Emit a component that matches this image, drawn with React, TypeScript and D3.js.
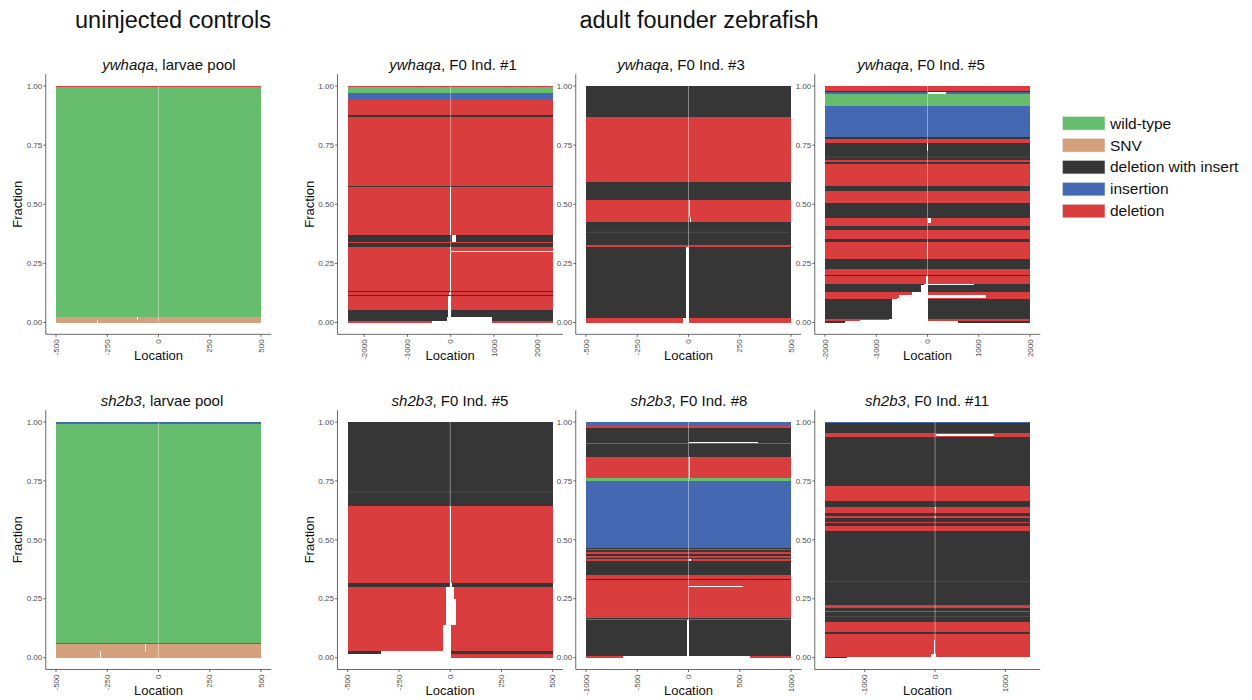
import React from "react";
import * as d3 from "d3";

// allele categories (legend order) and colours
const alleleKeys = ["wt", "snv", "di", "ins", "del"];
const alleleLabels = ["wild-type", "SNV", "deletion with insert", "insertion", "deletion"];
const alleleColors = ["#66BD6E", "#D4A17C", "#363636", "#4468B2", "#D93D3E"];

// each band: [allele, fraction, deletion start, deletion end] from bottom (0) to top (1)
type Band = [string, number, number, number];

const ywhaqaPool: Band[] = [
  ["snv", 0.012, -300, -296],
  ["snv", 0.010, -104, -100],
  ["wt", 0.972, 0, 0],
  ["del", 0.006, 0, 0],
];

const ywhaqaF01: Band[] = [
  ["del", 0.006, -440, 950],
  ["di", 0.019, -80, 950],
  ["di", 0.029, -60, 20],
  ["del", 0.060, -50, 10],
  ["di", 0.004, 0, 0],
  ["del", 0.011, -30, 5],
  ["di", 0.006, 0, 0],
  ["del", 0.165, -15, 5],
  ["del", 0.003, 0, 2400],
  ["del", 0.017, -10, 15],
  ["di", 0.015, 0, 0],
  ["del", 0.005, 0, 0],
  ["di", 0.032, 30, 120],
  ["del", 0.202, -5, 5],
  ["di", 0.004, 0, 0],
  ["del", 0.292, 0, 0],
  ["di", 0.006, 0, 0],
  ["del", 0.069, 0, 0],
  ["ins", 0.027, 0, 0],
  ["wt", 0.023, 0, 0],
  ["del", 0.005, 0, 0],
];

const ywhaqaF03: Band[] = [
  ["del", 0.018, -25, 0],
  ["di", 0.301, -10, 0],
  ["del", 0.009, 0, 0],
  ["di", 0.054, 0, 0],
  ["di", 0.043, 0, 0],
  ["del", 0.021, 5, 12],
  ["del", 0.074, 0, 8],
  ["di", 0.075, 0, 0],
  ["del", 0.275, 0, 0],
  ["di", 0.130, 0, 0],
];

const ywhaqaF05: Band[] = [
  ["di", 0.005, -1610, 590],
  ["del", 0.005, -1310, 15],
  ["del", 0.003, -745, 15],
  ["di", 0.087, -690, 10],
  ["del", 0.005, -600, 10],
  ["del", 0.010, -565, 1150],
  ["del", 0.015, -300, 10],
  ["di", 0.028, -120, 10],
  ["di", 0.004, -60, 900],
  ["del", 0.034, -20, 5],
  ["di", 0.003, 0, 0],
  ["del", 0.026, 0, 0],
  ["di", 0.042, 0, 0],
  ["del", 0.073, -15, 5],
  ["di", 0.015, 0, 0],
  ["del", 0.035, 0, 0],
  ["di", 0.020, 0, 0],
  ["del", 0.010, 0, 0],
  ["del", 0.020, 0, 60],
  ["di", 0.065, 0, 0],
  ["del", 0.005, 0, 0],
  ["del", 0.045, 0, 0],
  ["di", 0.022, 0, 0],
  ["del", 0.093, 0, 0],
  ["di", 0.010, 0, 0],
  ["del", 0.005, 0, 0],
  ["di", 0.015, 0, 0],
  ["di", 0.025, 0, 0],
  ["di", 0.035, -15, 0],
  ["del", 0.015, 0, 0],
  ["di", 0.010, 0, 0],
  ["ins", 0.130, 0, 0],
  ["wt", 0.050, 0, 0],
  ["ins", 0.010, 0, 370],
  ["di", 0.005, 0, 0],
  ["del", 0.020, 0, 0],
];

const sh2b3Pool: Band[] = [
  ["snv", 0.030, -283, -279],
  ["snv", 0.029, -67, -63],
  ["ins", 0.003, 0, 0],
  ["wt", 0.931, 0, 0],
  ["ins", 0.007, 0, 0],
];

const sh2b3F05: Band[] = [
  ["del", 0.015, -520, 5],
  ["di", 0.015, -340, 5],
  ["del", 0.110, -33, 5],
  ["del", 0.110, -20, 30],
  ["del", 0.050, -20, 20],
  ["di", 0.018, -3, 10],
  ["del", 0.327, -3, 5],
  ["di", 0.059, 0, 0],
  ["di", 0.296, 0, 0],
];

const sh2b3F08: Band[] = [
  ["del", 0.007, -640, 600],
  ["di", 0.152, -10, 5],
  ["del", 0.007, 0, 0],
  ["di", 0.004, 0, 0],
  ["del", 0.008, 0, 0],
  ["del", 0.122, 0, 0],
  ["del", 0.005, 0, 530],
  ["del", 0.025, 0, 0],
  ["di", 0.005, 0, 0],
  ["del", 0.015, 0, 0],
  ["di", 0.060, 0, 0],
  ["del", 0.008, 0, 20],
  ["di", 0.007, 0, 0],
  ["del", 0.007, 0, 0],
  ["di", 0.008, 0, 0],
  ["del", 0.008, 0, 0],
  ["di", 0.007, 0, 0],
  ["del", 0.005, 0, 0],
  ["di", 0.005, 0, 0],
  ["ins", 0.283, 0, 0],
  ["wt", 0.014, 0, 0],
  ["del", 0.088, 0, 5],
  ["di", 0.055, 0, 0],
  ["del", 0.005, 0, 0],
  ["di", 0.006, 0, 680],
  ["di", 0.059, 0, 0],
  ["del", 0.010, 0, 0],
  ["ins", 0.015, 0, 0],
];

const sh2b3F11: Band[] = [
  ["di", 0.004, -1256, 1400],
  ["del", 0.011, -60, 10],
  ["del", 0.060, -10, 5],
  ["del", 0.026, 0, 0],
  ["di", 0.009, 0, 0],
  ["del", 0.040, 0, 0],
  ["di", 0.025, 0, 0],
  ["di", 0.020, 0, 0],
  ["del", 0.005, 0, 0],
  ["di", 0.010, 0, 0],
  ["del", 0.012, 0, 0],
  ["di", 0.102, 0, 0],
  ["di", 0.214, 0, 0],
  ["del", 0.020, 0, 0],
  ["di", 0.012, 0, 0],
  ["del", 0.004, 0, 0],
  ["di", 0.018, 0, 0],
  ["del", 0.008, 0, 8],
  ["di", 0.012, 0, 0],
  ["del", 0.028, 0, 5],
  ["di", 0.026, 0, 0],
  ["del", 0.064, 0, 0],
  ["di", 0.205, 0, 0],
  ["ins", 0.002, 0, 0],
  ["del", 0.004, 0, 0],
  ["del", 0.006, 10, 840],
  ["del", 0.005, 0, 0],
  ["di", 0.044, 0, 0],
  ["ins", 0.004, 0, 0],
];

const panelBands = [ywhaqaPool, ywhaqaF01, ywhaqaF03, ywhaqaF05, sh2b3Pool, sh2b3F05, sh2b3F08, sh2b3F11];
const panelGenes = ["ywhaqa", "ywhaqa", "ywhaqa", "ywhaqa", "sh2b3", "sh2b3", "sh2b3", "sh2b3"];
const panelSamples = ["larvae pool", "F0 Ind. #1", "F0 Ind. #3", "F0 Ind. #5", "larvae pool", "F0 Ind. #5", "F0 Ind. #8", "F0 Ind. #11"];
const panelDomains = [
  [-500, 500], [-2380, 2360], [-500, 500], [-2000, 2000],
  [-500, 500], [-500, 500], [-1000, 1000], [-1565, 1350],
];
const panelXTicks = [
  [-500, -250, 0, 250, 500],
  [-2000, -1000, 0, 1000, 2000],
  [-500, -250, 0, 250, 500],
  [-2000, -1000, 0, 1000, 2000],
  [-500, -250, 0, 250, 500],
  [-500, -250, 0, 250, 500],
  [-1000, -500, 0, 500, 1000],
  [-1000, 0, 1000],
];
const fractionTicks = [0, 0.25, 0.5, 0.75, 1];
const groupHeaders = ["uninjected controls", "adult founder zebrafish"];

// layout
const FONT = "'Liberation Sans', Arial, Helvetica, sans-serif";
const colLefts = [56, 347.7, 586, 825];
const dataW = 205;
const rowTops = [86, 422];
const rowBottoms = [322.5, 657.7];
const titleCenters = [[169, 453, 681, 921], [162, 450, 689, 927]];
const TEXT = "#111";
const TICK = "#4d4d4d";

function colorOf(k: string) {
  return alleleColors[alleleKeys.indexOf(k)];
}

function Panel({ idx }: { idx: number }) {
  const row = Math.floor(idx / 4);
  const col = idx % 4;
  const left = colLefts[col];
  const dom = panelDomains[idx];
  const x = d3.scaleLinear().domain(dom).range([left, left + dataW]);
  const y = d3.scaleLinear().domain([0, 1]).range([rowBottoms[row], rowTops[row]]);
  const padX = dataW * 0.05;
  const axisX = left - padX;
  const axisY = y(-0.05);
  const rightX = left + dataW + padX;
  const bands = panelBands[idx];
  const cum: number[] = [];
  let acc = 0;
  bands.forEach((b) => { cum.push(acc); acc += b[1]; });

  return (
    <g>
      <g shapeRendering="crispEdges">
        {bands.map((b, i) => {
          const y0 = y(cum[i]);
          const y1 = y(cum[i] + b[1]);
          return (
            <rect key={"b" + i} x={x(dom[0])} y={y1} width={x(dom[1]) - x(dom[0])} height={Math.max(y0 - y1, 0.6)}
              fill={colorOf(b[0])} />
          );
        })}
      </g>
      {bands.map((b, i) => {
        if (i === 0) return null;
        const p = bands[i - 1];
        if (p[0] !== b[0] || p[2] !== p[3] || b[2] !== b[3]) return null;
        const yy = y(cum[i]);
        return (
          <line key={"s" + i} x1={x(dom[0])} x2={x(dom[1])} y1={yy} y2={yy} stroke="rgba(140,140,140,0.5)" strokeWidth={0.5} />
        );
      })}
      <g shapeRendering="crispEdges">
        {bands.map((b, i) => {
          if (b[2] === b[3]) return null;
          const y0 = y(cum[i]);
          const y1 = y(cum[i] + b[1]);
          const gl = Math.max(b[2], dom[0]);
          const gr = Math.min(b[3], dom[1]);
          return (
            <rect key={"g" + i} x={x(gl)} y={y1} width={Math.max(x(gr) - x(gl), 1)} height={Math.max(y0 - y1, 0.6)} fill="#fff" />
          );
        })}
      </g>
      <line x1={x(0)} x2={x(0)} y1={y(1)} y2={y(0)} stroke="#fff" strokeOpacity={0.5} strokeWidth={0.8} />
      {/* y axis */}
      <line x1={axisX} x2={axisX} y1={y(1.05)} y2={axisY} stroke="#444" strokeWidth={0.8} />
      {fractionTicks.map((t) => (
        <g key={"yt" + t}>
          <line x1={axisX - 2.5} x2={axisX} y1={y(t)} y2={y(t)} stroke="#444" strokeWidth={0.8} />
          <text x={axisX - 3.5} y={y(t)} dy="0.34em" textAnchor="end" fontSize={8} fill={TICK} fontFamily={FONT}>
            {d3.format(".2f")(t)}
          </text>
        </g>
      ))}
      {/* x axis */}
      <line x1={axisX} x2={rightX} y1={axisY} y2={axisY} stroke="#444" strokeWidth={0.8} />
      {panelXTicks[idx].map((t) => (
        <g key={"xt" + t}>
          <line x1={x(t)} x2={x(t)} y1={axisY} y2={axisY + 2.5} stroke="#444" strokeWidth={0.8} />
          <text transform={`translate(${x(t)},${axisY + 5}) rotate(-90)`} dy="0.34em" textAnchor="end"
            fontSize={8} fill={TICK} fontFamily={FONT}>
            {String(t)}
          </text>
        </g>
      ))}
      <text x={left + dataW / 2} y={axisY + 25.5} textAnchor="middle" fontSize={13} fill={TEXT} fontFamily={FONT}>
        Location
      </text>
      {col < 2 && (
        <text transform={`translate(${axisX - 23.5},${(y(0) + y(1)) / 2}) rotate(-90)`} textAnchor="middle"
          fontSize={13} fill={TEXT} fontFamily={FONT}>
          Fraction
        </text>
      )}
      <text x={titleCenters[row][col]} y={rowTops[row] - 16} textAnchor="middle" fontSize={15} fill={TEXT} fontFamily={FONT}>
        <tspan fontStyle="italic">{panelGenes[idx]}</tspan>
        <tspan>{", " + panelSamples[idx]}</tspan>
      </text>
    </g>
  );
}

export default function App() {
  const legendY = d3.scaleBand().domain(alleleLabels).range([112.3, 222]);
  return (
    <svg width={1252} height={700} style={{ position: "absolute", left: 0, top: 0, background: "#fff" }}>
      <rect width={1252} height={700} fill="#fff" />
      <text x={173} y={28} textAnchor="middle" fontSize={23.5} fill={TEXT} fontFamily={FONT}>{groupHeaders[0]}</text>
      <text x={699} y={28} textAnchor="middle" fontSize={23.5} fill={TEXT} fontFamily={FONT}>{groupHeaders[1]}</text>
      {panelBands.map((_, i) => <Panel key={i} idx={i} />)}
      {alleleLabels.map((lab, i) => {
        const cy = (legendY(lab) as number) + legendY.bandwidth() / 2;
        return (
          <g key={lab}>
            <rect x={1062.5} y={cy - 6.8} width={42.5} height={13.6} fill={alleleColors[i]} stroke="#e4e4e4" strokeWidth={0.6} />
            <text x={1110} y={cy + 5.3} fontSize={15.5} fill={TEXT} fontFamily={FONT}>{lab}</text>
          </g>
        );
      })}
    </svg>
  );
}
